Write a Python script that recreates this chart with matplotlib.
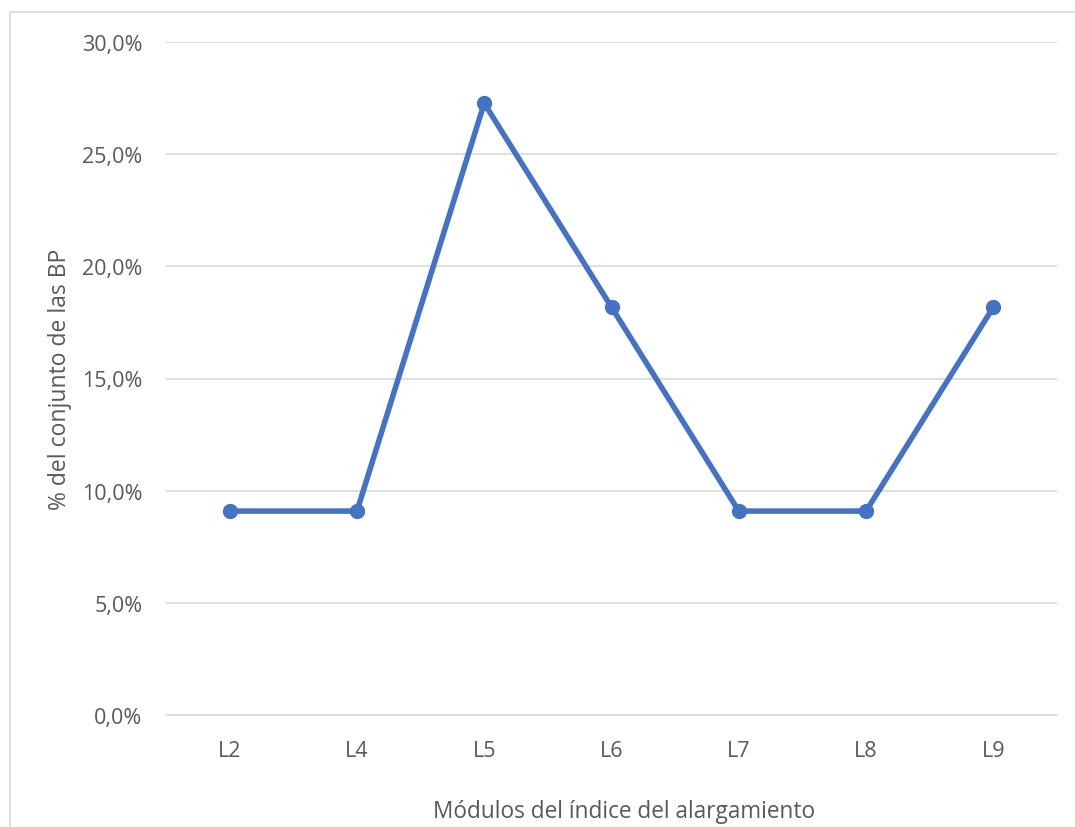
import matplotlib
matplotlib.use("Agg")
import matplotlib.pyplot as plt
from matplotlib.patches import Rectangle
from matplotlib.ticker import FuncFormatter

categories = ["L2", "L4", "L5", "L6", "L7", "L8", "L9"]
values = [9.09, 9.09, 27.27, 18.18, 9.09, 9.09, 18.18]
y_ticks = [0, 5, 10, 15, 20, 25, 30]

plt.rcParams["font.family"] = ["Open Sans", "DejaVu Sans"]

W, H = 1075, 828
fig = plt.figure(figsize=(W / 100, H / 100), dpi=100)
fig.patch.set_facecolor("white")

# outer chart frame
fig.patches.append(Rectangle((10 / W, -0.05), 1.1, (H - 13) / H + 0.05,
                             transform=fig.transFigure, fill=False,
                             edgecolor="#d9d9d9", linewidth=1.2))

ax = fig.add_axes([166 / W, (H - 716) / H, (1057 - 166) / W, (716 - 43) / H])
x = list(range(len(categories)))
ax.plot(x, values, color="#4472C4", linewidth=4.0, marker="o",
        markersize=10, solid_capstyle="round", zorder=3)

ax.set_xlim(-0.5, len(categories) - 0.5)
ax.set_ylim(0, 30)
ax.set_yticks(y_ticks)
ax.yaxis.set_major_formatter(FuncFormatter(lambda v, p: f"{v:.1f}%".replace(".", ",")))
ax.set_xticks(x)
ax.set_xticklabels(categories)

ax.grid(axis="y", color="#d9d9d9", linewidth=1.2)
ax.set_axisbelow(True)
for s in ["top", "right", "left"]:
    ax.spines[s].set_visible(False)
ax.spines["bottom"].set_color("#d9d9d9")
ax.spines["bottom"].set_linewidth(1.2)
ax.tick_params(axis="both", length=0, labelsize=15.5, colors="#595959")
ax.tick_params(axis="y", pad=17)
ax.tick_params(axis="x", pad=18)

ax.set_xlabel("Módulos del índice del alargamiento", fontsize=16.3,
              color="#595959")
ax.xaxis.set_label_coords(0.514, -0.125, transform=ax.transAxes)
ax.xaxis.label.set_verticalalignment("top")
ax.set_ylabel("% del conjunto de las BP", fontsize=16.5, color="#595959",
              labelpad=7)

fig.savefig("out.png", dpi=100, facecolor="white")
